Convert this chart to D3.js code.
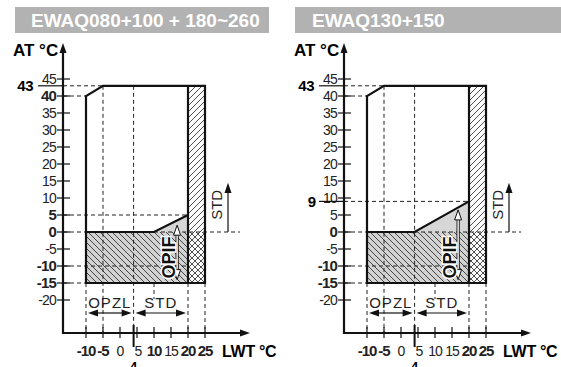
<!DOCTYPE html>
<html>
<head>
<meta charset="utf-8">
<script src="https://cdn.jsdelivr.net/npm/d3@7"></script>
<style>
  body { margin: 0; background: #fff; }
  svg { display: block; font-family: 'Liberation Sans', Arial, sans-serif; }
</style>
</head>
<body>
<div id="chart"></div>
<script>
// panel data
const titles = ['EWAQ080+100 + 180~260', 'EWAQ130+150'];
const opifStartLWT = [10, 4];   // where the OPIF boundary leaves AT = 0
const opifTopAT = [5, 9];       // AT at LWT = 20
const envelope = [[-10, -15], [-10, 40], [-5, 43], [25, 43], [25, -15]];
const yTicks = [45, 40, 35, 30, 25, 20, 15, 10, 5, 0, -5, -10, -15, -20];
const xTicks = [-10, -5, 0, 5, 10, 15, 20, 25];
const yBold = [[40, 5, 0, -10, -15], [0, -10, -15]];
const xBold = [[-10, -5, 10, 20, 25], [-10, -5, 20, 25]];
const zoneLabels = [{ name: 'OPZL', from: -10, to: 4 }, { name: 'STD', from: 4, to: 20 }];

const width = 561, height = 367;
const svg = d3.select('#chart').append('svg').attr('width', width).attr('height', height);

const defs = svg.append('defs');
function hatch(id, paths, bg) {
  const p = defs.append('pattern').attr('id', id).attr('patternUnits', 'userSpaceOnUse')
    .attr('width', 6).attr('height', 6);
  if (bg) p.append('rect').attr('width', 6).attr('height', 6).attr('fill', bg);
  paths.forEach(d => p.append('path').attr('d', d).attr('stroke', '#222').attr('stroke-width', 0.8).attr('fill', 'none'));
}
const back = 'M-1,-1L7,7M-4,2L2,8M4,-2L8,2';
const fwd = 'M-1,7L7,-1M-4,4L2,-2M4,8L8,4';
hatch('hBack', [back], '#d2d2d2');
hatch('hFwd', [fwd], '#fff');
hatch('hCross', [back, fwd], '#fff');

const x0 = d3.scaleLinear().domain([-10, 25]).range([86, 205]);
const y = d3.scaleLinear().domain([0, 45]).range([232, 79]);
const axisY = 333;

titles.forEach((title, i) => {
  const off = i * 281;
  const x = v => x0(v) + off;
  const g = svg.append('g');
  const axX = 63 + off;

  // banner
  g.append('rect').attr('x', i ? 295 : 15).attr('y', 7).attr('width', i ? 266 : 254).attr('height', 26).attr('fill', '#b2b2b2');
  g.append('text').attr('x', i ? 312 : 31).attr('y', 27).attr('fill', '#fff')
    .attr('font-size', 19).attr('font-weight', 'bold').text(title);

  const s0 = opifStartLWT[i], t0 = opifTopAT[i];

  // grey region with hatch below 0
  g.append('path').attr('d', d3.line()([[x(s0), y(0)], [x(20), y(t0)], [x(20), y(0)]]))
    .attr('fill', '#d6d6d6');
  g.append('rect').attr('x', x(-10)).attr('y', y(0)).attr('width', x(20) - x(-10)).attr('height', y(-15) - y(0))
    .attr('fill', 'url(#hBack)');
  // right strip
  g.append('rect').attr('x', x(20)).attr('y', y(43)).attr('width', x(25) - x(20)).attr('height', y(0) - y(43))
    .attr('fill', 'url(#hFwd)');
  g.append('rect').attr('x', x(20)).attr('y', y(0)).attr('width', x(25) - x(20)).attr('height', y(-15) - y(0))
    .attr('fill', 'url(#hCross)');

  // dashed guides
  const dash = (x1, y1, x2, y2) => g.append('line').attr('x1', x1).attr('y1', y1).attr('x2', x2).attr('y2', y2)
    .attr('stroke', '#222').attr('stroke-width', 1).attr('stroke-dasharray', '4,3');
  dash(axX, y(43), x(-5), y(43));
  dash(axX, y(40), x(-10), y(40));
  dash(axX, y(t0), x(20), y(t0));
  dash(axX, y(0), x(25) + 35, y(0));
  dash(axX, y(-10), x(20), y(-10));
  dash(axX, y(-15), x(-10), y(-15));
  dash(x(-5), y(43), x(-5), axisY);
  dash(x(4), y(43), x(4), axisY);
  dash(x(-10), y(-15), x(-10), axisY);
  dash(x(10), y(-15), x(10), y(-15) + 16);
  dash(x(20), y(-15), x(20), axisY);
  dash(x(25), y(-15), x(25), axisY);

  // envelope outline
  g.append('path').attr('d', d3.line()(envelope.map(d => [x(d[0]), y(d[1])])) + 'Z')
    .attr('fill', 'none').attr('stroke', '#111').attr('stroke-width', 2.2).attr('stroke-linejoin', 'miter');
  g.append('path').attr('d', d3.line()([[x(-10), y(0)], [x(s0), y(0)], [x(20), y(t0)]]))
    .attr('fill', 'none').attr('stroke', '#111').attr('stroke-width', 2.2);
  g.append('line').attr('x1', x(20)).attr('x2', x(20)).attr('y1', y(43)).attr('y2', y(-15))
    .attr('stroke', '#111').attr('stroke-width', 2.2);

  // axes
  const arrowHead = (px, py, dir) => {
    const pts = dir === 'up' ? [[px, py], [px - 3.5, py + 10], [px + 3.5, py + 10]]
      : [[px, py], [px - 10, py - 3.5], [px - 10, py + 3.5]];
    g.append('path').attr('d', d3.line()(pts) + 'Z').attr('fill', '#111');
  };
  g.append('line').attr('x1', axX).attr('x2', axX).attr('y1', axisY + 1).attr('y2', 50).attr('stroke', '#111').attr('stroke-width', 2.2);
  arrowHead(axX, 43, 'up');
  g.append('line').attr('x1', axX - 1).attr('x2', x(25) + 38).attr('y1', axisY).attr('y2', axisY).attr('stroke', '#111').attr('stroke-width', 2.2);
  arrowHead(x(25) + 45, axisY, 'right');

  yTicks.forEach(v => {
    g.append('line').attr('x1', axX - 6).attr('x2', axX + 7).attr('y1', y(v)).attr('y2', y(v)).attr('stroke', '#111').attr('stroke-width', 1.2);
    const bold = yBold[i].includes(v);
    g.append('text').attr('x', axX - 7).attr('y', y(v)).attr('dy', '0.36em').attr('text-anchor', 'end')
      .attr('font-size', bold ? 15 : 14).attr('font-weight', bold ? 'bold' : 'normal')
      .attr('letter-spacing', -0.8).attr('fill', '#222').text(v);
  });
  // 43 and extra value labels
  g.append('line').attr('x1', 38 + off).attr('x2', axX).attr('y1', y(43)).attr('y2', y(43)).attr('stroke', '#111').attr('stroke-width', 1.2);
  g.append('text').attr('x', 33 + off).attr('y', y(43)).attr('dy', '0.36em').attr('text-anchor', 'end')
    .attr('font-size', 15).attr('font-weight', 'bold').attr('letter-spacing', -0.5).text(43);
  if (t0 !== 5) {
    g.append('line').attr('x1', 38 + off).attr('x2', axX).attr('y1', y(t0)).attr('y2', y(t0)).attr('stroke', '#111').attr('stroke-width', 1.2);
    g.append('text').attr('x', 35 + off).attr('y', y(t0)).attr('dy', '0.36em').attr('text-anchor', 'end')
      .attr('font-size', 15).attr('font-weight', 'bold').text(t0);
  }

  xTicks.forEach(v => {
    g.append('line').attr('x1', x(v)).attr('x2', x(v)).attr('y1', axisY - 6).attr('y2', axisY + 5).attr('stroke', '#111').attr('stroke-width', 1.2);
    const bold = xBold[i].includes(v);
    g.append('text').attr('x', x(v) + (v === 5 ? 1 : 0)).attr('y', 356).attr('text-anchor', 'middle')
      .attr('font-size', bold ? 15 : 14).attr('font-weight', bold ? 'bold' : 'normal')
      .attr('letter-spacing', -1).attr('fill', '#222').text(v);
  });
  g.append('line').attr('x1', x(4)).attr('x2', x(4)).attr('y1', axisY - 8).attr('y2', axisY + 14).attr('stroke', '#111').attr('stroke-width', 2);
  g.append('text').attr('x', x(4)).attr('y', 371).attr('text-anchor', 'middle')
    .attr('font-size', 13).attr('font-weight', 'bold').text(4);

  g.append('text').attr('x', 13 + off).attr('y', 56).attr('font-size', 17).attr('font-weight', 'bold').text('AT °C');
  g.append('text').attr('x', x(25) + 17).attr('y', 357).attr('font-size', 16).attr('font-weight', 'bold')
    .attr('letter-spacing', -0.3).text('LWT °C');

  // zone arrows under the envelope
  zoneLabels.forEach(z => {
    const a = x(z.from) + 2, b = x(z.to) - 2, yy = 313;
    g.append('line').attr('x1', a + 8).attr('x2', b - 8).attr('y1', yy).attr('y2', yy).attr('stroke', '#111').attr('stroke-width', 1.2);
    g.append('path').attr('d', d3.line()([[a, yy], [a + 10, yy - 3.5], [a + 10, yy + 3.5]]) + 'Z').attr('fill', '#111');
    g.append('path').attr('d', d3.line()([[b, yy], [b - 10, yy - 3.5], [b - 10, yy + 3.5]]) + 'Z').attr('fill', '#111');
    g.append('text').attr('x', (x(z.from) + x(z.to)) / 2).attr('y', 308).attr('text-anchor', 'middle')
      .attr('font-size', 15).attr('letter-spacing', 1).attr('fill', '#222').text(z.name);
  });

  // STD arrow on the right
  const sx = x(25) + 23;
  g.append('line').attr('x1', sx).attr('x2', sx).attr('y1', y(0)).attr('y2', y(12)).attr('stroke', '#111').attr('stroke-width', 1.2);
  g.append('path').attr('d', d3.line()([[sx, y(14.5)], [sx - 3.5, y(11.5)], [sx + 3.5, y(11.5)]]) + 'Z').attr('fill', '#111');
  g.append('text').attr('transform', `translate(${sx - 6},${y(8)}) rotate(-90)`).attr('text-anchor', 'middle')
    .attr('font-size', 15).attr('fill', '#222').text('STD');

  // OPIF double arrow
  const ox = x(16.8), top = i ? y(6.5) : y(2), bot = y(-14);
  g.append('line').attr('x1', ox).attr('x2', ox).attr('y1', top + 8).attr('y2', bot - 8).attr('stroke', '#111').attr('stroke-width', 3.2);
  g.append('line').attr('x1', ox).attr('x2', ox).attr('y1', top + 8).attr('y2', bot - 8).attr('stroke', '#fff').attr('stroke-width', 1.4);
  [[top, 1], [bot, -1]].forEach(([py, d]) => {
    g.append('path').attr('d', d3.line()([[ox, py], [ox - 3.5, py + 10 * d], [ox + 3.5, py + 10 * d]]) + 'Z')
      .attr('fill', '#fff').attr('stroke', '#111').attr('stroke-width', 1);
  });
  g.append('text').attr('transform', `translate(${x(14.3)},${y(-7.5)}) rotate(-90)`).attr('text-anchor', 'middle')
    .attr('dy', '0.35em').attr('font-size', 18).attr('font-weight', 'bold').attr('fill', '#111')
    .attr('stroke', '#fff').attr('stroke-width', 3).attr('paint-order', 'stroke').text('OPIF');
});
</script>
</body>
</html>
